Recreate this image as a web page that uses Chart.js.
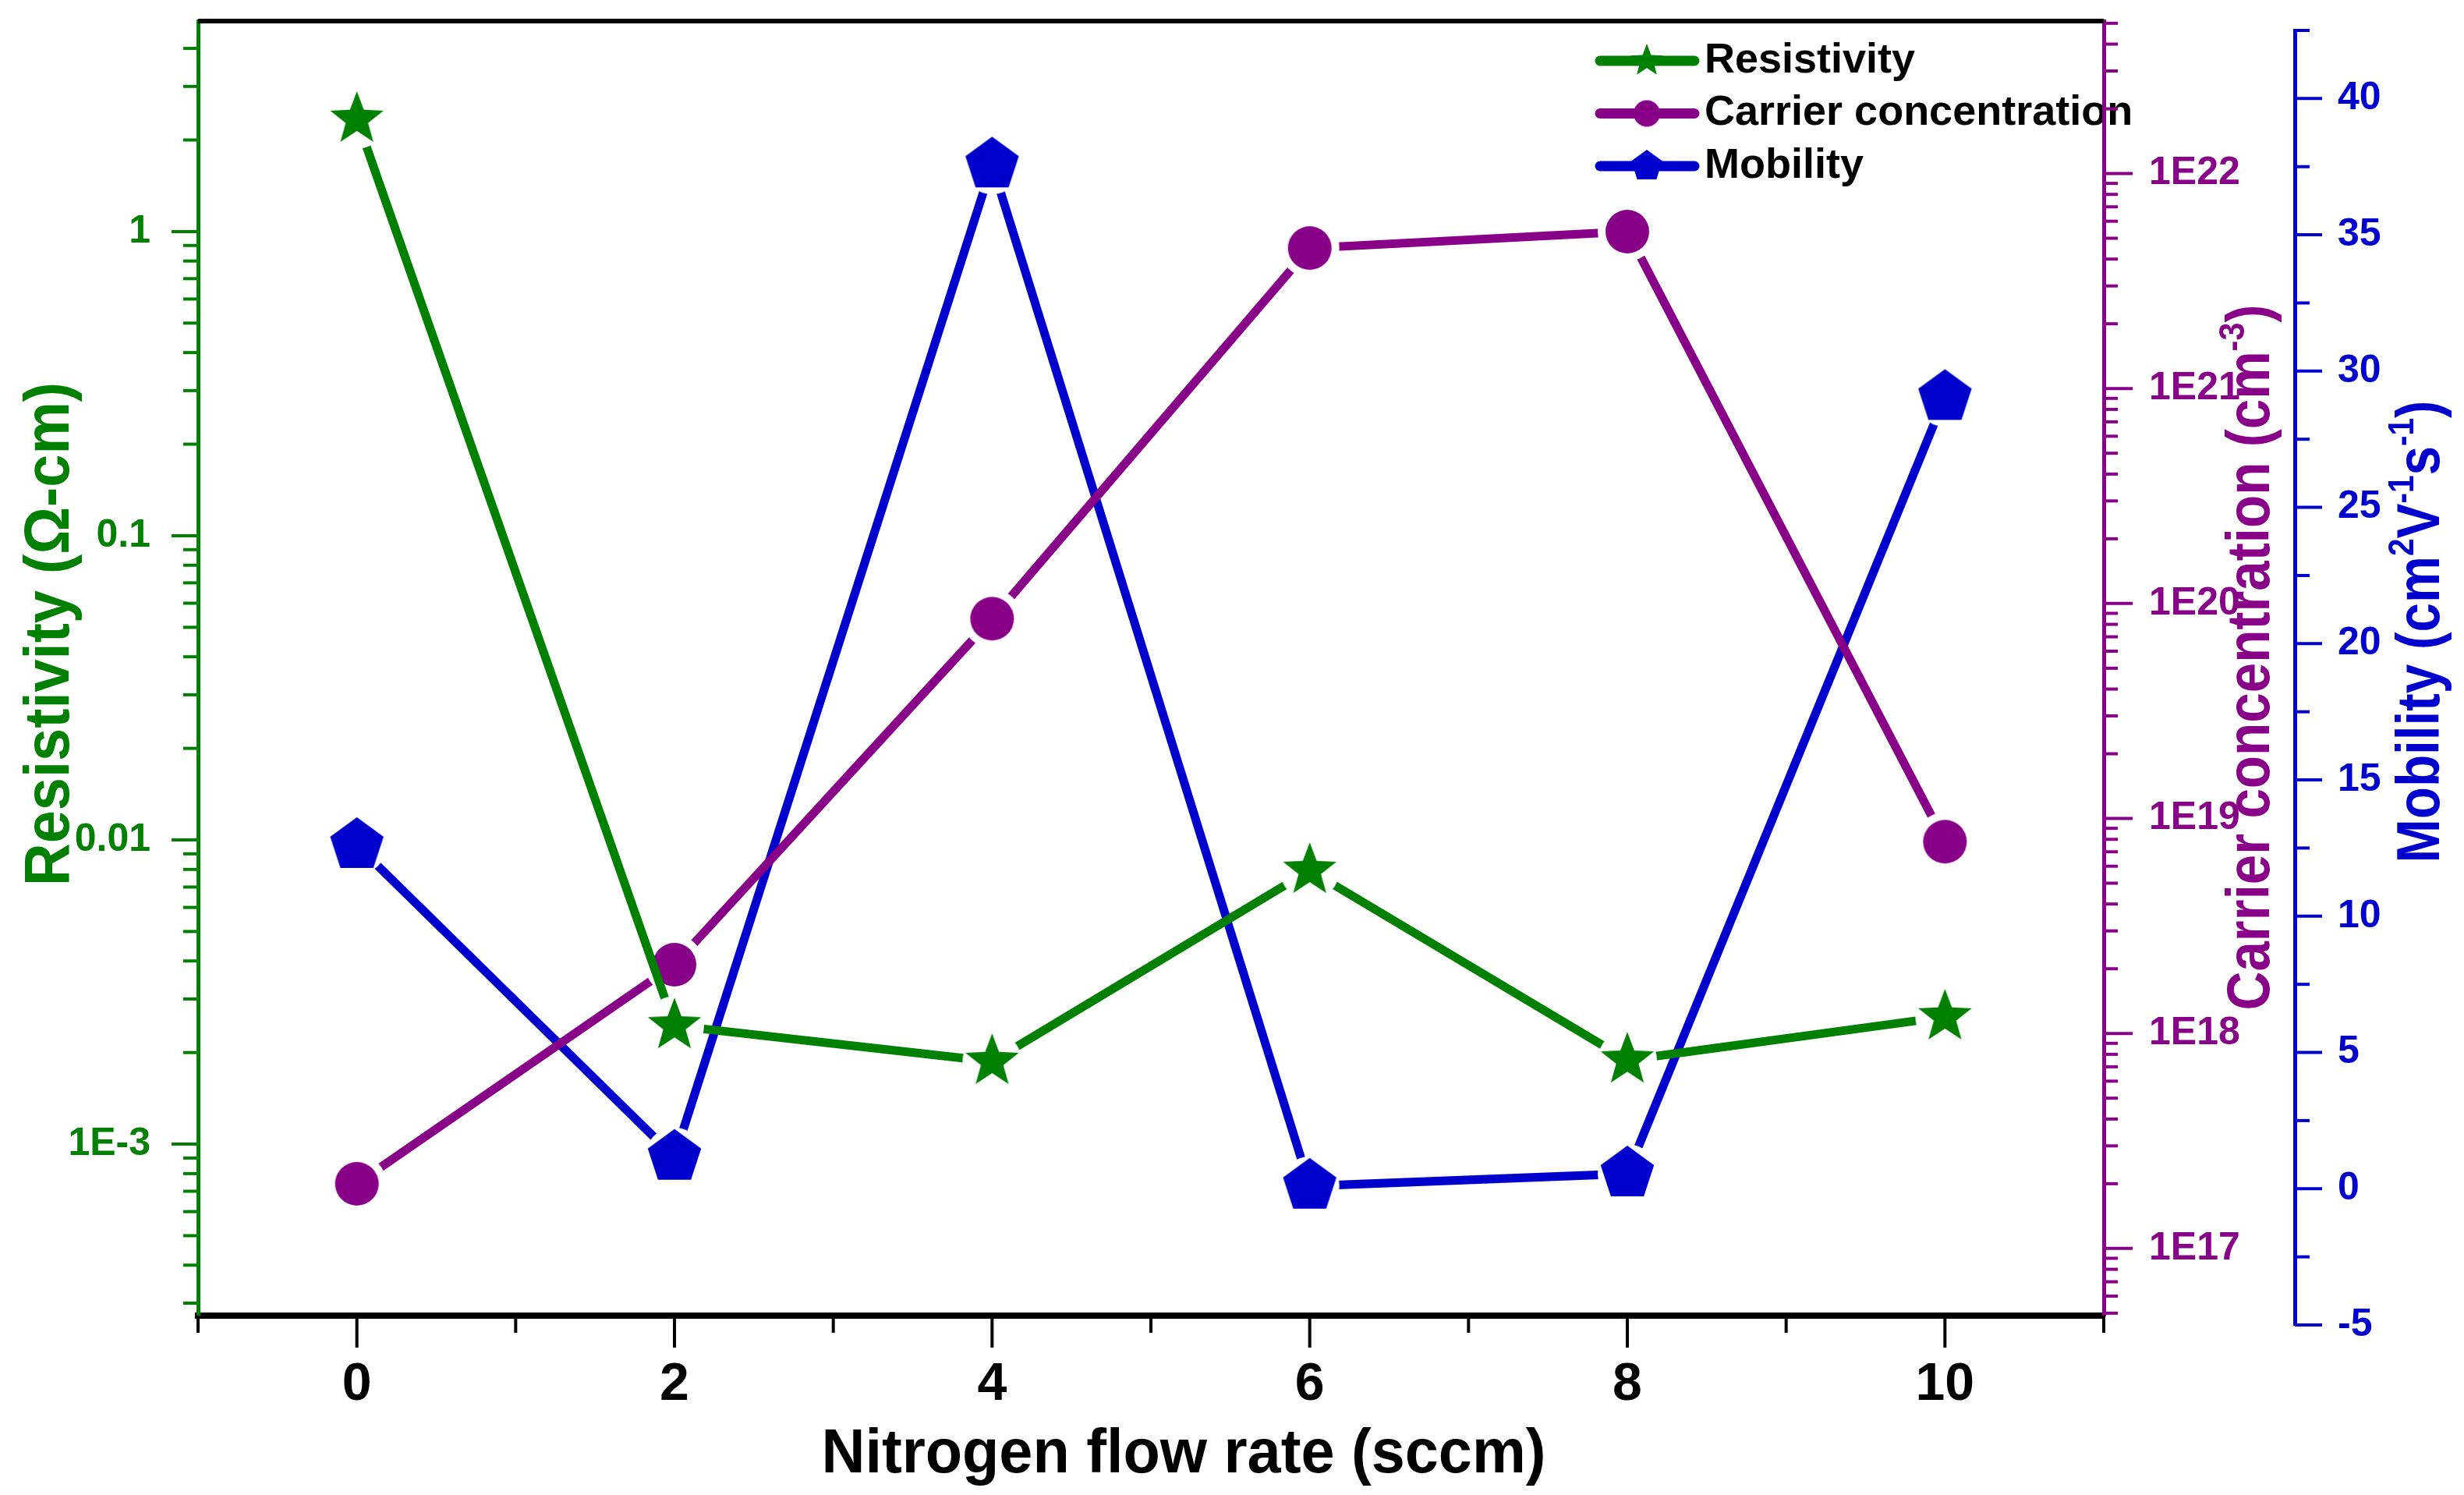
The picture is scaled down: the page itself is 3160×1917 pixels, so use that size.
<!DOCTYPE html>
<html>
<head>
<meta charset="utf-8">
<title>Resistivity, carrier concentration and mobility vs nitrogen flow rate</title>
<script src="https://cdn.jsdelivr.net/npm/chart.js@4.4.0/dist/chart.umd.min.js"></script>
<style>
  html, body { margin: 0; padding: 0; background: #fff; }
  canvas { display: block; }
</style>
</head>
<body>
<canvas id="chart" width="3160" height="1917"></canvas>
<script>
// values
var flowRates = [0, 2, 4, 6, 8, 10];
var resistivity = [2.34, 2.45e-3, 1.87e-3, 7.94e-3, 1.89e-3, 2.62e-3];
var carrierConc = [2.0e17, 2.09e18, 8.5e19, 4.5e21, 5.37e21, 7.8e18];
var mobility = [12.6, 1.16, 37.57, 0.1, 0.55, 29.04];

var xTickLabels = ['0', '2', '4', '6', '8', '10'];
var resTickLabels = ['1E-3', '0.01', '0.1', '1'];
var carTickLabels = ['1E17', '1E18', '1E19', '1E20', '1E21', '1E22'];
var mobTickLabels = ['-5', '0', '5', '10', '15', '20', '25', '30', '35', '40'];

var GREEN = '#008000';
var PURPLE = '#880088';
var BLUE = '#0000CC';
var FONT = "'Liberation Sans', Arial, Helvetica, sans-serif";

function labelFor(labels, v) {
    for (var i = 0; i < labels.length; i++) {
        var n = Number(labels[i]);
        if (Math.abs(n - v) <= 1e-9 * Math.max(1, Math.abs(n))) return labels[i];
    }
    return '';
}

function points(ys) {
    return flowRates.map(function (x, i) { return {x: x, y: ys[i]}; });
}

function makeMarker(shape, color, r, halo) {
    var size = 2 * Math.ceil(Math.max(r, halo || 0) + 2);
    var c = document.createElement('canvas');
    c.width = size;
    c.height = size;
    var g = c.getContext('2d');
    var cx = size / 2, cy = size / 2;
    if (halo) {
        g.fillStyle = '#fff';
        g.beginPath();
        g.arc(cx, cy, halo, 0, 2 * Math.PI);
        g.fill();
    }
    g.fillStyle = color;
    g.beginPath();
    if (shape === 'circle') {
        g.arc(cx, cy, r, 0, 2 * Math.PI);
    } else {
        var n = shape === 'star' ? 10 : 5;
        for (var k = 0; k < n; k++) {
            var a = -Math.PI / 2 + k * 2 * Math.PI / n;
            var rr = (shape === 'star' && k % 2) ? r * 0.42 : r;
            var px = cx + rr * Math.cos(a), py = cy + rr * Math.sin(a);
            if (k === 0) g.moveTo(px, py); else g.lineTo(px, py);
        }
        g.closePath();
    }
    g.fill();
    return c;
}

var starImg = makeMarker('star', GREEN, 36, 38);
var circleImg = makeMarker('circle', PURPLE, 28, 38);
var pentImg = makeMarker('pentagon', BLUE, 36, 38);
var legendIcons = [
    makeMarker('star', GREEN, 22, 0),
    makeMarker('circle', PURPLE, 17, 0),
    makeMarker('pentagon', BLUE, 21, 0)
];

function logTicks(s) {
    var t = [];
    var e0 = Math.floor(Math.log10(s.min)), e1 = Math.ceil(Math.log10(s.max));
    for (var e = e0; e <= e1; e++) {
        for (var m = 1; m <= 9; m++) {
            var v = Number(m + 'e' + e);
            if (v >= s.min && v <= s.max) t.push({value: v});
        }
    }
    s.ticks = t;
}

function stepTicks(step) {
    return function (s) {
        var t = [];
        var n = Math.round((s.max - s.min) / step);
        for (var i = 0; i <= n; i++) t.push({value: s.min + i * step});
        s.ticks = t;
    };
}

// fixed box sizes, and no extra room asked for the end labels
function fixSize(w, h) {
    return function (s) {
        if (w) s.width = w;
        if (h) s.height = h;
        s.paddingTop = 0;
        s.paddingBottom = 0;
        s.paddingLeft = 0;
        s.paddingRight = 0;
    };
}

// text made of pieces, some raised as superscripts, squeezed to a given length
function drawRich(ctx, segs, x, y, angle, size, color, targetLen) {
    ctx.save();
    ctx.fillStyle = color;
    ctx.textBaseline = 'alphabetic';
    ctx.textAlign = 'left';
    var total = 0;
    segs.forEach(function (s) {
        ctx.font = 'bold ' + (s.sup ? size * 0.6 : size) + 'px ' + FONT;
        s.w = ctx.measureText(s.t).width;
        total += s.w;
    });
    var sx = targetLen ? targetLen / total : 1;
    ctx.translate(x, y);
    ctx.rotate(angle);
    ctx.scale(sx, 1);
    var cur = -total / 2;
    segs.forEach(function (s) {
        ctx.font = 'bold ' + (s.sup ? size * 0.6 : size) + 'px ' + FONT;
        ctx.fillText(s.t, cur, s.sup ? -size * 0.42 : 0);
        cur += s.w;
    });
    ctx.restore();
}

var tickLen = {x: [41, 22], yRes: [34, 19], yCar: [37, 18], yMob: [35, 19]};
var axisColor = {x: '#000', yRes: GREEN, yCar: PURPLE, yMob: BLUE};

var decor = {
    id: 'decor',
    afterLayout: function (chart) {
        // the mobility axis sits a little lower than the frame in the original
        var s = chart.scales.yMob;
        s.top += 12;
        s.bottom += 12;
        s.configure();
    },
    beforeDraw: function (chart) {
        // legend, under the axes like in the original
        var ctx = chart.ctx;
        ctx.save();
        chart.data.datasets.forEach(function (ds, i) {
            var y = 78 + i * 67.5;
            ctx.strokeStyle = ds.borderColor;
            ctx.lineWidth = 13;
            ctx.lineCap = 'round';
            ctx.beginPath();
            ctx.moveTo(2052, y);
            ctx.lineTo(2173, y);
            ctx.stroke();
            var ic = legendIcons[i];
            ctx.drawImage(ic, 2112 - ic.width / 2, y - ic.height / 2);
            ctx.fillStyle = '#000';
            ctx.font = 'bold 54px ' + FONT;
            ctx.textBaseline = 'middle';
            ctx.textAlign = 'left';
            ctx.fillText(ds.label, 2186, y);
        });
        ctx.restore();
    },
    afterDraw: function (chart) {
        var ctx = chart.ctx;
        var area = chart.chartArea;
        ctx.save();
        ctx.lineCap = 'butt';
        Object.keys(chart.scales).forEach(function (id) {
            var s = chart.scales[id];
            var len = tickLen[id];
            ctx.strokeStyle = axisColor[id];
            ctx.lineWidth = 4;
            s.ticks.forEach(function (t) {
                var L = t.label !== '' ? len[0] : len[1];
                var p = s.getPixelForValue(t.value);
                ctx.beginPath();
                if (id === 'x') {
                    ctx.moveTo(p, s.top);
                    ctx.lineTo(p, s.top + L);
                } else if (s.position === 'left') {
                    ctx.moveTo(s.right, p);
                    ctx.lineTo(s.right - L, p);
                } else {
                    ctx.moveTo(s.left, p);
                    ctx.lineTo(s.left + L, p);
                }
                ctx.stroke();
            });
        });
        // top frame
        ctx.strokeStyle = '#000';
        ctx.lineWidth = 6;
        ctx.beginPath();
        ctx.moveTo(area.left, area.top);
        ctx.lineTo(area.right, area.top);
        ctx.stroke();
        ctx.restore();

        drawRich(ctx, [{t: 'Nitrogen flow rate (sccm)'}], 1518, 1888, 0, 80, '#000', 929);
        drawRich(ctx, [{t: 'Resistivity (\u03A9-cm)'}], 88, 813, -Math.PI / 2, 82, GREEN, 646);
        drawRich(ctx, [{t: 'Carrier concentration (cm'}, {t: '-3', sup: true}, {t: ')'}],
            2910, 843, -Math.PI / 2, 77, PURPLE, 905);
        drawRich(ctx, [{t: 'Mobility (cm'}, {t: '2', sup: true}, {t: 'V'}, {t: '-1', sup: true},
            {t: 's'}, {t: '-1', sup: true}, {t: ')'}],
            3128, 810, -Math.PI / 2, 78, BLUE, 593);
    }
};

function tickFont(size) {
    return {family: FONT, size: size, weight: 'bold'};
}

new Chart(document.getElementById('chart'), {
    type: 'line',
    data: {
        datasets: [{
            label: 'Resistivity',
            data: points(resistivity),
            yAxisID: 'yRes',
            borderColor: GREEN,
            backgroundColor: GREEN,
            borderWidth: 11,
            pointStyle: starImg,
            pointRadius: 30,
            tension: 0,
            fill: false
        }, {
            label: 'Carrier concentration',
            data: points(carrierConc),
            yAxisID: 'yCar',
            borderColor: PURPLE,
            backgroundColor: PURPLE,
            borderWidth: 11,
            pointStyle: circleImg,
            pointRadius: 30,
            tension: 0,
            fill: false
        }, {
            label: 'Mobility',
            data: points(mobility),
            yAxisID: 'yMob',
            borderColor: BLUE,
            backgroundColor: BLUE,
            borderWidth: 11,
            pointStyle: pentImg,
            pointRadius: 30,
            tension: 0,
            fill: false
        }]
    },
    options: {
        responsive: false,
        animation: false,
        devicePixelRatio: 1,
        events: [],
        layout: {autoPadding: false, padding: {top: 27, left: 0, right: 0, bottom: 0}},
        plugins: {legend: {display: false}, tooltip: {enabled: false}},
        scales: {
            x: {
                type: 'linear',
                position: 'bottom',
                min: -1,
                max: 11,
                afterBuildTicks: stepTicks(1),
                afterFit: fixSize(0, 230),
                grid: {display: false, drawTicks: false},
                border: {display: true, color: '#000', width: 8},
                ticks: {
                    autoSkip: false, maxRotation: 0, minRotation: 0, padding: 48,
                    color: '#000', font: tickFont(68),
                    callback: function (v) { return labelFor(xTickLabels, v); }
                }
            },
            yRes: {
                type: 'logarithmic',
                position: 'left',
                min: 2.73e-4,
                max: 4.92,
                afterBuildTicks: logTicks,
                afterFit: fixSize(254, 0),
                grid: {display: false, drawTicks: false},
                border: {display: true, color: GREEN, width: 5},
                ticks: {
                    autoSkip: false, padding: 61, color: GREEN, font: tickFont(50),
                    callback: function (v) { return labelFor(resTickLabels, v); }
                }
            },
            yCar: {
                type: 'logarithmic',
                position: 'right',
                weight: 1,
                min: 4.87e16,
                max: 5.12e22,
                afterBuildTicks: logTicks,
                afterFit: fixSize(245, 0),
                grid: {display: false, drawTicks: false},
                border: {display: true, color: PURPLE, width: 5},
                ticks: {
                    autoSkip: false, padding: 58, color: PURPLE, font: tickFont(50),
                    callback: function (v) { return labelFor(carTickLabels, v); }
                }
            },
            yMob: {
                type: 'linear',
                position: 'right',
                weight: 2,
                min: -5,
                max: 42.5,
                afterBuildTicks: stepTicks(2.5),
                afterFit: fixSize(217, 0),
                grid: {display: false, drawTicks: false},
                border: {display: true, color: BLUE, width: 5},
                ticks: {
                    autoSkip: false, padding: 55, color: BLUE, font: tickFont(50),
                    callback: function (v) { return labelFor(mobTickLabels, v); }
                }
            }
        }
    },
    plugins: [decor]
});
</script>
</body>
</html>
